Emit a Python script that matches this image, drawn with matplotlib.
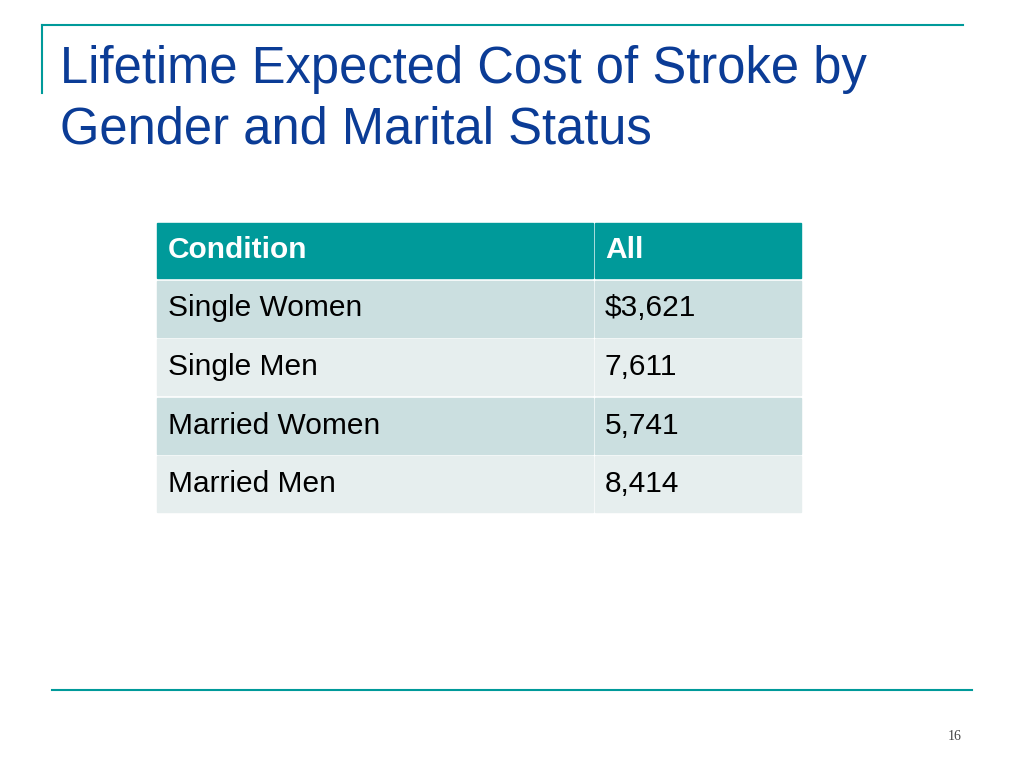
import matplotlib.pyplot as plt
from matplotlib.patches import Rectangle

title_lines = ["Lifetime Expected Cost of Stroke by", "Gender and Marital Status"]
header = ["Condition", "All"]
conditions = ["Single Women", "Single Men", "Married Women", "Married Men"]
costs = ["$3,621", "7,611", "5,741", "8,414"]
page_num = "16"

teal = "#009a9a"
title_col = "#0b3c96"
row_cols = ["#cbdfe0", "#e6eeee"]

fig = plt.figure(figsize=(10.24, 7.68), dpi=100)
ax = fig.add_axes([0, 0, 1, 1])
ax.set_xlim(0, 1024)
ax.set_ylim(768, 0)
ax.axis("off")

# slide decoration
ax.plot([42, 963], [25, 25], color=teal, lw=1.5)
ax.plot([42, 42], [25, 93], color=teal, lw=1.5)
ax.plot([52, 972], [690, 690], color=teal, lw=1.5)

for i, line in enumerate(title_lines):
    ax.text(60, 70 + i * 60, line, fontsize=36.5, color=title_col,
            va="center", ha="left", family="Liberation Sans")

# table
x0, xs, x1 = 157, 594, 801
top, hh, rh, gap = 223, 55, 56, 2.5
fs = 21.5
ax.add_patch(Rectangle((x0, top), xs - x0 - 1, hh, color=teal))
ax.add_patch(Rectangle((xs + 1, top), x1 - xs - 1, hh, color=teal))
ax.text(x0 + 11, top + hh / 2, header[0], fontsize=fs, fontweight="bold",
        color="white", va="center", family="Liberation Sans")
ax.text(xs + 11, top + hh / 2, header[1], fontsize=fs, fontweight="bold",
        color="white", va="center", family="Liberation Sans")

for i, (c, v) in enumerate(zip(conditions, costs)):
    y = top + hh + gap + i * (rh + gap)
    col = row_cols[i % 2]
    ax.add_patch(Rectangle((x0, y), xs - x0 - 1, rh, color=col))
    ax.add_patch(Rectangle((xs + 1, y), x1 - xs - 1, rh, color=col))
    ax.text(x0 + 11, y + rh / 2, c, fontsize=fs, color="black",
            va="center", family="Liberation Sans")
    ax.text(xs + 11, y + rh / 2, v, fontsize=fs, color="black",
            va="center", family="Liberation Sans")

ax.text(955, 736, page_num, fontsize=10, color="#444444", ha="center",
        va="center", family="Liberation Serif")

fig.savefig("out.png", dpi=100)
